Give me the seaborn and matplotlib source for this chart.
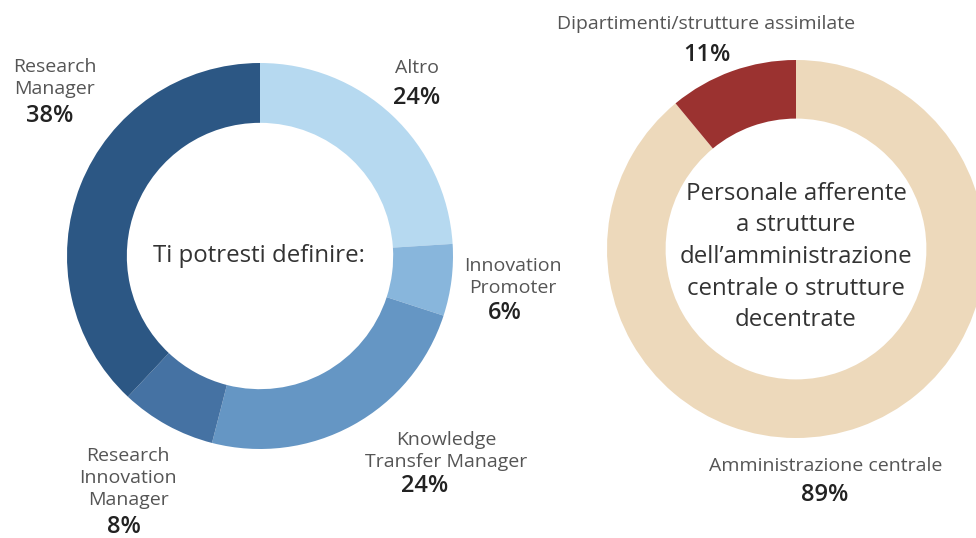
import matplotlib
matplotlib.use("Agg")
import matplotlib.pyplot as plt
import seaborn as sns

# ======= Data ========
ruoli = ["Altro", "Innovation\nPromoter", "Knowledge\nTransfer Manager",
         "Research\nInnovation\nManager", "Research\nManager"]
ruoli_pct = [24, 6, 24, 8, 38]
ruoli_colori = ["#b6d9f0", "#88b6dc", "#6596c4", "#4572a3", "#2c5784"]

strutture = ["Amministrazione centrale", "Dipartimenti/strutture assimilate"]
strutture_pct = [89, 11]
strutture_colori = ["#edd9bb", "#9b3230"]

W, H = 976, 538

sns.set_theme(style="white")
plt.rcParams["font.family"] = ["Open Sans", "DejaVu Sans"]

fig = plt.figure(figsize=(W / 100, H / 100), dpi=100)
fig.patch.set_facecolor("white")


def pie_axes(cx, cy, r):
    # axes placed in pixel coords (origin top-left)
    return fig.add_axes([(cx - r) / W, 1 - (cy + r) / H, 2 * r / W, 2 * r / H])


def label(x, y, s, size=14, color="#555555", weight="normal", ls=1.32):
    fig.text(x / W, 1 - y / H, s, ha="center", va="center", fontsize=size,
             color=color, fontweight=weight, linespacing=ls)


def pct(x, y, v):
    label(x, y, f"{v}%", size=17, color="#222222", weight="semibold")


# ======= Left donut ========
ax1 = pie_axes(260, 256, 193)
ax1.pie(ruoli_pct, colors=ruoli_colori, startangle=90, counterclock=False,
        radius=1, wedgeprops=dict(width=0.31, linewidth=0))
ax1.set_xlim(-1, 1)
ax1.set_ylim(-1, 1)
ax1.axis("off")

label(259, 256, "Ti potresti definire:", size=17.3, color="#333333")

label(417, 68, ruoli[0])
pct(417, 98, ruoli_pct[0])
label(513, 277, ruoli[1])
pct(505, 313, ruoli_pct[1])
label(446, 451, ruoli[2])
pct(425, 486, ruoli_pct[2])
label(128, 478, ruoli[3])
pct(124, 527, ruoli_pct[3])
label(55, 78, ruoli[4])
pct(50, 116, ruoli_pct[4])

# ======= Right donut ========
ax2 = pie_axes(796, 249, 189)
ax2.pie(strutture_pct, colors=strutture_colori, startangle=90, counterclock=False,
        radius=1, wedgeprops=dict(width=0.31, linewidth=0))
ax2.set_xlim(-1, 1)
ax2.set_ylim(-1, 1)
ax2.axis("off")

label(796, 257, "Personale afferente\na strutture\ndell\u2019amministrazione\ncentrale o strutture\ndecentrate",
      size=17.3, color="#333333", ls=1.43)

label(706, 24, strutture[1])
pct(707, 55, strutture_pct[1])
label(826, 466, strutture[0])
pct(825, 495, strutture_pct[0])

fig.savefig("out.png", dpi=100, facecolor="white")
